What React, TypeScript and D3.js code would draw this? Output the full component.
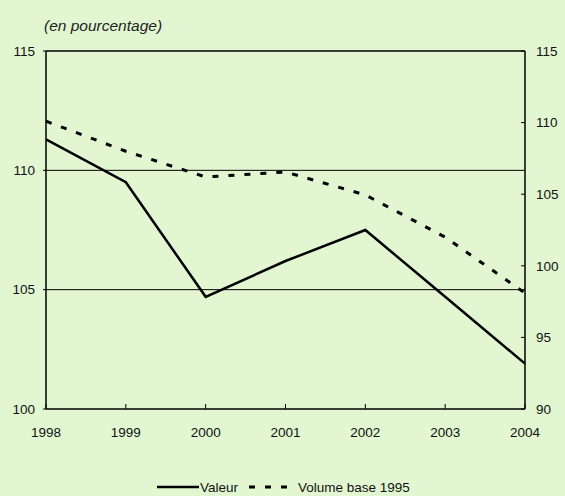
import React from "react";
import * as d3 from "d3";

const years = [1998, 1999, 2000, 2001, 2002, 2003, 2004];
const valeur = [111.3, 109.5, 104.7, 106.2, 107.5, 104.7, 101.9];
const volume = [110.1, 108.0, 106.2, 106.55, 104.95, 102.0, 98.1];
const leftTicks = [100, 105, 110, 115];
const rightTicks = [90, 95, 100, 105, 110, 115];
const gridValues = [105, 110];
const title = "(en pourcentage)";
const seriesNames = ["Valeur", "Volume base 1995"];

const W = 565;
const H = 496;
const left = 46;
const right = 525;
const top = 51;
const bottom = 409;
const FONT = "'Liberation Sans', Arial, sans-serif";

export default function App() {
  const x = d3.scaleLinear().domain([1998, 2004]).range([left, right]);
  const yL = d3.scaleLinear().domain([100, 115]).range([bottom, top]);
  const yR = d3.scaleLinear().domain([90, 115]).range([bottom, top]);

  const lineL = d3
    .line<number>()
    .x((_, i) => x(years[i]))
    .y((d) => yL(d));
  const lineR = d3
    .line<number>()
    .x((_, i) => x(years[i]))
    .y((d) => yR(d));

  return (
    <svg
      width={W}
      height={H}
      style={{ position: "absolute", left: 0, top: 0, display: "block" }}
    >
      <rect x={0} y={0} width={W} height={H} fill="#e2f7d1" />
      <text
        x={44}
        y={31}
        fontFamily={FONT}
        fontStyle="italic"
        fontSize={15.5}
        fill="#222"
      >
        {title}
      </text>

      {gridValues.map((v) => (
        <line
          key={v}
          x1={left}
          x2={right}
          y1={yL(v)}
          y2={yL(v)}
          stroke="#000"
          strokeWidth={1}
        />
      ))}

      {/* frame */}
      <line x1={left} x2={right} y1={top} y2={top} stroke="#000" strokeWidth={1.5} />
      <line x1={left} x2={left} y1={top} y2={bottom} stroke="#000" strokeWidth={1.5} />
      <line x1={right} x2={right} y1={top} y2={bottom} stroke="#000" strokeWidth={1.5} />
      <line x1={left} x2={right} y1={bottom} y2={bottom} stroke="#000" strokeWidth={1.5} />

      {leftTicks.map((t) => (
        <g key={"l" + t}>
          <line x1={left - 3} x2={left} y1={yL(t)} y2={yL(t)} stroke="#000" strokeWidth={1} />
          <text
            x={35}
            y={yL(t)}
            dy="0.35em"
            textAnchor="end"
            fontFamily={FONT}
            fontSize={13.5}
            fill="#111"
          >
            {t}
          </text>
        </g>
      ))}
      {rightTicks.map((t) => (
        <g key={"r" + t}>
          <line x1={right - 4} x2={right} y1={yR(t)} y2={yR(t)} stroke="#000" strokeWidth={1} />
          <text
            x={536}
            y={yR(t)}
            dy="0.35em"
            textAnchor="start"
            fontFamily={FONT}
            fontSize={13.5}
            fill="#111"
          >
            {t}
          </text>
        </g>
      ))}
      {years.map((yr) => (
        <g key={"x" + yr}>
          <line x1={x(yr)} x2={x(yr)} y1={bottom - 5} y2={bottom} stroke="#000" strokeWidth={1} />
          <text
            x={x(yr)}
            y={437}
            textAnchor="middle"
            fontFamily={FONT}
            fontSize={13.5}
            fill="#111"
          >
            {yr}
          </text>
        </g>
      ))}

      <path d={lineR(volume) || ""} fill="none" stroke="#000" strokeWidth={3} strokeDasharray="6,10" />
      <path d={lineL(valeur) || ""} fill="none" stroke="#000" strokeWidth={2.5} />

      {/* legend */}
      <line x1={157} x2={199} y1={487} y2={487} stroke="#000" strokeWidth={2.5} />
      <text x={200} y={492} fontFamily={FONT} fontSize={13.5} fill="#111">
        {seriesNames[0]}
      </text>
      <line x1={249} x2={292} y1={487} y2={487} stroke="#000" strokeWidth={3} strokeDasharray="6,10" />
      <text x={298} y={492} fontFamily={FONT} fontSize={13.5} fill="#111">
        {seriesNames[1]}
      </text>
    </svg>
  );
}
